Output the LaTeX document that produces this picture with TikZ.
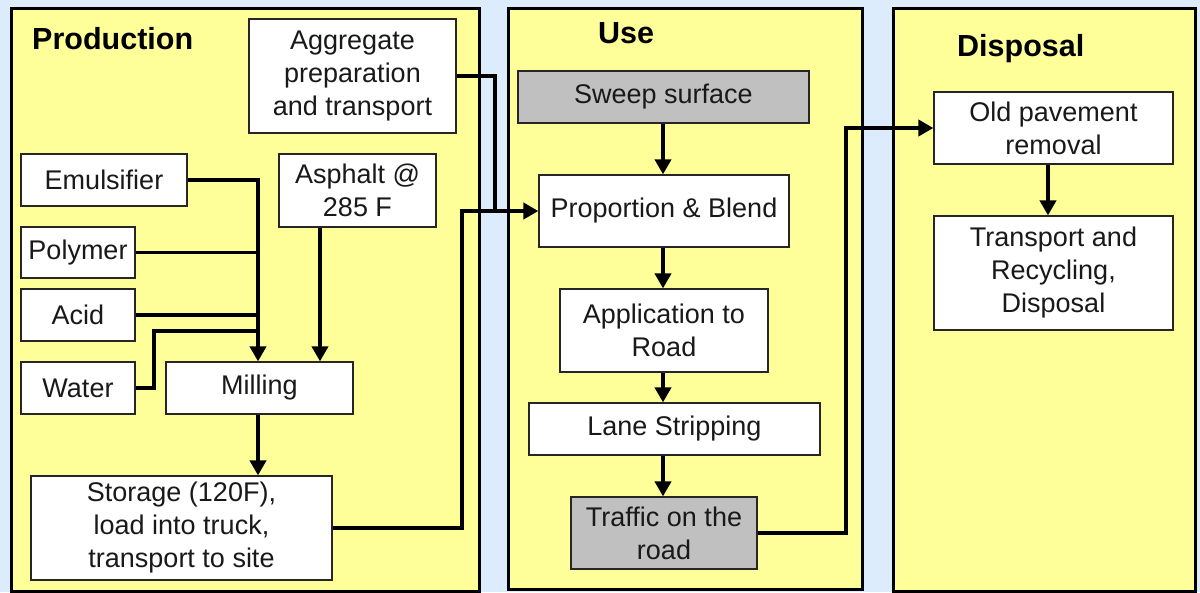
\documentclass[tikz,border=0pt]{standalone}
\usepackage{fontspec}
\setmainfont{Liberation Sans}
\usetikzlibrary{arrows.meta}
\definecolor{bgblue}{RGB}{221,236,252}
\definecolor{panelyellow}{RGB}{255,255,153}
\definecolor{boxgray}{RGB}{192,192,192}
\begin{document}
\begin{tikzpicture}[x=1pt,y=-1pt,
  panel/.style={draw=black,line width=3pt,fill=panelyellow,inner sep=0pt,anchor=north west},
  ptitle/.style={font=\bfseries\fontsize{30.5}{36}\selectfont,anchor=base west,inner sep=0pt},
  box/.style={draw=black!85,line width=1.2pt,fill=white,inner sep=0pt,align=center,
    font=\fontsize{27}{33}\selectfont,text=black!90},
  graybox/.style={box,fill=boxgray},
  conn/.style={line width=3.8pt,draw=black},
  arr/.style={conn,-{Triangle[length=15pt,width=16pt]}}
]
\fill[bgblue] (0,0) rectangle (1200,592);
\useasboundingbox (0,0) rectangle (1200,592);

% panels
\node[panel,minimum width=468pt,minimum height=583pt] (pprod) at (10,7) {};
\node[panel,minimum width=354pt,minimum height=581pt] (puse) at (507,7) {};
\node[panel,minimum width=302pt,minimum height=583pt] (pdisp) at (892,7) {};

\node[ptitle] (tprod) at (32,49) {Production};
\node[ptitle] (tuse) at (598,43) {Use};
\node[ptitle] (tdisp) at (957,56) {Disposal};

% production boxes
\node[box,minimum width=207pt,minimum height=114pt] (agg) at (352.5,76) {Aggregate\\preparation\\and transport};
\node[box,minimum width=166pt,minimum height=52pt] (emul) at (104,180) {Emulsifier};
\node[box,minimum width=114pt,minimum height=51pt] (poly) at (78,252.5) {Polymer};
\node[box,minimum width=114pt,minimum height=52pt] (acid) at (78,315) {Acid};
\node[box,minimum width=114pt,minimum height=52pt] (water) at (78,388) {Water};
\node[box,minimum width=187pt,minimum height=52pt] (mill) at (259.5,388) {Milling};
\node[box,minimum width=157pt,minimum height=73pt] (asph) at (357.5,190.5) {Asphalt @\\285 F};
\node[box,minimum width=301pt,minimum height=104pt] (stor) at (181.5,528) {Storage (120F),\\load into truck,\\transport to site};

% use boxes
\node[graybox,minimum width=291pt,minimum height=52pt] (sweep) at (663.5,97) {Sweep surface};
\node[box,minimum width=250pt,minimum height=72pt] (pb) at (664,211) {Proportion \& Blend};
\node[box,minimum width=208pt,minimum height=83pt] (appl) at (664,330.5) {Application to\\Road};
\node[box,minimum width=291pt,minimum height=52pt] (lane) at (674.5,429) {Lane Stripping};
\node[graybox,minimum width=186pt,minimum height=72pt] (traf) at (664,533) {Traffic on the\\road};

% disposal boxes
\node[box,minimum width=239pt,minimum height=72pt] (old) at (1053.5,128) {Old pavement\\removal};
\node[box,minimum width=239pt,minimum height=114pt] (trans) at (1053.5,273) {Transport and\\Recycling,\\Disposal};

% helper coordinates
\coordinate (mx) at (258,0);
\coordinate (ax) at (320,0);
\coordinate (wbend) at (154,331);
\coordinate (sbend) at (462,211);
\coordinate (abend) at (495,211);
\coordinate (ux) at (663,0);
\coordinate (tbend) at (846,128);
\coordinate (dx) at (1048,0);

% production connectors
\draw[conn] (poly.east) -- (poly.east -| mx);
\draw[conn] (acid.east) -- (acid.east -| mx);
\draw[conn] (water.east) -| (wbend) -- (wbend -| mx);
\draw[arr] (emul.east) -| (mx |- mill.north);
\draw[arr] (ax |- asph.south) -- (ax |- mill.north);
\draw[arr] (mx |- mill.south) -- (mx |- stor.north);
\draw[conn] (agg.east) -| (abend);
\draw[arr] (stor.east) -| (sbend) -- (pb.west);

% use connectors
\draw[arr] (ux |- sweep.south) -- (ux |- pb.north);
\draw[arr] (ux |- pb.south) -- (ux |- appl.north);
\draw[arr] (ux |- appl.south) -- (ux |- lane.north);
\draw[arr] (ux |- lane.south) -- (ux |- traf.north);
\draw[arr] (traf.east) -| (tbend) -- (old.west);

% disposal connector
\draw[arr] (dx |- old.south) -- (dx |- trans.north);
\end{tikzpicture}
\end{document}
